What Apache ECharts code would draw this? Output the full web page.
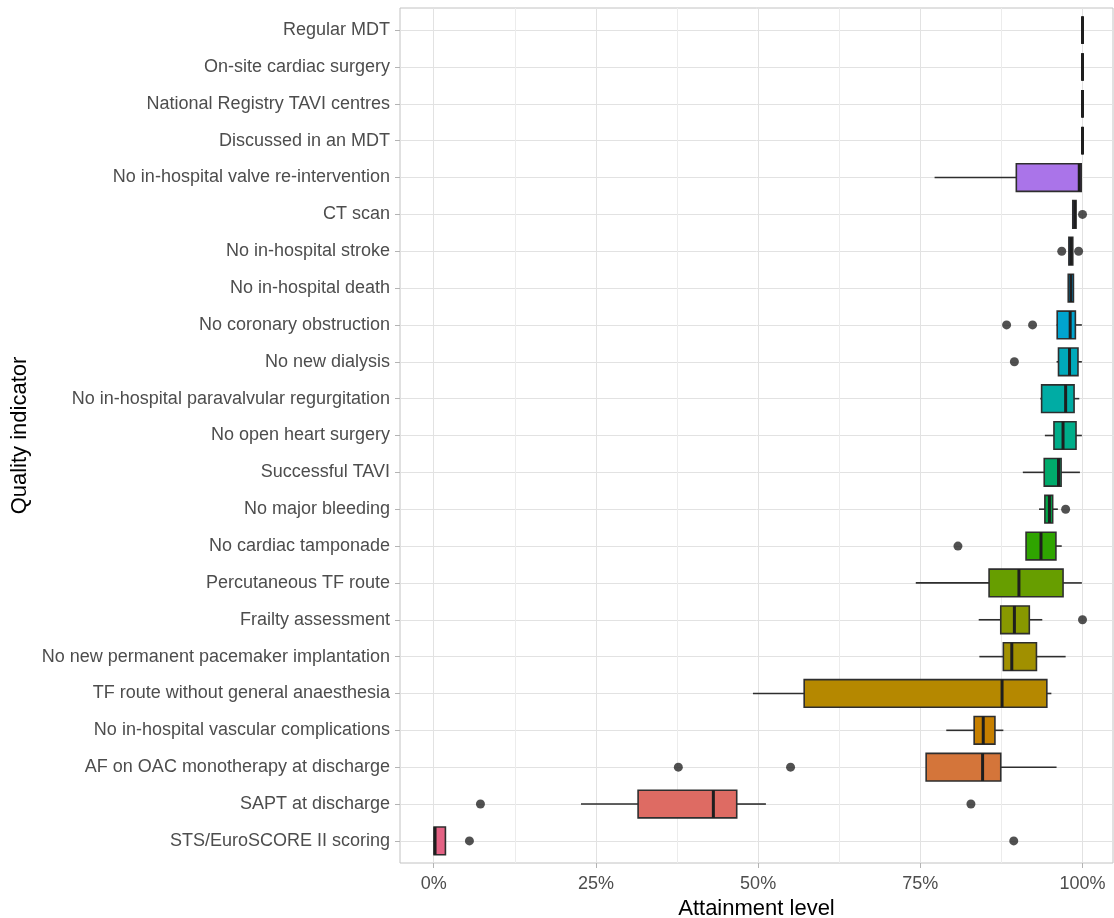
<!DOCTYPE html>
<html><head><meta charset="utf-8">
<script src="https://cdn.jsdelivr.net/npm/echarts@6/dist/echarts.min.js"></script>
<style>html,body{margin:0;padding:0;background:#fff}#c{width:1114px;height:918px}</style>
</head><body><div id="c"></div>
<script>
const categories = [
  'Regular MDT','On-site cardiac surgery','National Registry TAVI centres','Discussed in an MDT',
  'No in-hospital valve re-intervention','CT scan','No in-hospital stroke','No in-hospital death',
  'No coronary obstruction','No new dialysis','No in-hospital paravalvular regurgitation',
  'No open heart surgery','Successful TAVI','No major bleeding','No cardiac tamponade',
  'Percutaneous TF route','Frailty assessment','No new permanent pacemaker implantation',
  'TF route without general anaesthesia','No in-hospital vascular complications',
  'AF on OAC monotherapy at discharge','SAPT at discharge','STS/EuroSCORE II scoring'
];
const q1 =          [100,100,100,100, 89.8, 98.5, 97.9, 97.8, 96.1, 96.3, 93.7, 95.6, 94.1, 94.2, 91.3, 85.6, 87.4, 87.8, 57.1, 83.3, 75.9, 31.5, 0.05];
const median =      [100,100,100,100, 99.5, 98.8, 98.2, 98.2, 98.1, 98.0, 97.4, 97.0, 96.3, 94.9, 93.6, 90.2, 89.5, 89.1, 87.6, 84.7, 84.6, 43.1, 0.2];
const q3 =          [100,100,100,100, 99.8, 99.0, 98.5, 98.6, 98.9, 99.3, 98.7, 99.0, 96.7, 95.4, 95.9, 97.0, 91.8, 92.9, 94.5, 86.5, 87.4, 46.7, 1.8];
const whiskerLow =  [100,100,100,100, 77.2, 98.5, 97.9, 97.8, 96.0, 96.0, 93.5, 94.2, 90.8, 93.3, 91.3, 74.3, 84.0, 84.1, 49.2, 79.0, 75.9, 22.7, 0.0];
const whiskerHigh = [100,100,100,100, 99.8, 99.0, 98.5, 98.6, 99.9, 99.9, 99.5, 99.9, 99.6, 96.2, 96.8, 99.9, 93.8, 97.4, 95.2, 87.8, 96.0, 51.2, 1.8];
const outliers = [[5,100],[6,96.8],[6,99.4],[8,88.3],[8,92.3],[9,89.5],[13,97.4],[14,80.8],[16,100],
  [20,37.7],[20,55.0],[21,7.2],[21,82.8],[22,5.5],[22,89.4]];
const xTicks = [0,25,50,75,100];
const xMinor = [12.5,37.5,62.5,87.5];

// ggplot-like hue palette (hcl), slightly darkened to match the reference image
function hcl(h, c, l) {
  const hr = h * Math.PI / 180;
  const U = c * Math.cos(hr), V = c * Math.sin(hr);
  const Xn = 95.047, Yn = 100, Zn = 108.883;
  const den = Xn + 15 * Yn + 3 * Zn;
  const un = 4 * Xn / den, vn = 9 * Yn / den;
  const Y = Yn * Math.pow((l + 16) / 116, 3);
  const up = U / (13 * l) + un, vp = V / (13 * l) + vn;
  const X = Y * 9 * up / (4 * vp);
  const Z = Y * (12 - 3 * up - 20 * vp) / (4 * vp);
  const lin = [
    (3.2404542 * X - 1.5371385 * Y - 0.4985314 * Z) / 100,
    (-0.9692660 * X + 1.8760108 * Y + 0.0415560 * Z) / 100,
    (0.0556434 * X - 0.2040259 * Y + 1.0572252 * Z) / 100
  ];
  return '#' + lin.map(v => {
    let g = v <= 0.0031308 ? 12.92 * v : 1.055 * Math.pow(v, 1 / 2.4) - 0.055;
    g = Math.max(0, Math.min(1, g));
    return Math.round(g * 255).toString(16).padStart(2, '0');
  }).join('');
}
const n = categories.length;
const step = 360 / n;
const colors = categories.map((c, r) => {
  const level = r === n - 1 ? n - 1 : (n - 2 - r);
  return hcl(15 + level * step, 88, 59);
});

const boxData = categories.map((c, i) => [i, q1[i], median[i], q3[i], whiskerLow[i], whiskerHigh[i]]);
const outlierData = outliers.map(o => [o[1], o[0]]);
const yIdx = categories.map((c, i) => i);

const chart = echarts.init(document.getElementById('c'), null, {renderer: 'canvas'});
const FONT = 'Liberation Sans, Arial, sans-serif';
const labelFont = {fontFamily: FONT, fontSize: 18, color: '#4d4d4d'};
const X_MIN = -5.2, X_MAX = 104.7;

chart.setOption({
  backgroundColor: '#ffffff',
  animation: false,
  grid: {left: 400, right: 1, top: 8, bottom: 55, show: true, borderColor: '#c2c2c2', borderWidth: 1,
    containLabel: false, outerBoundsMode: 'none'},
  xAxis: [{
    type: 'value', min: X_MIN, max: X_MAX,
    axisLine: {show: false, onZero: false},
    axisTick: {show: true, length: 5, lineStyle: {color: '#b3b3b3'}, customValues: xTicks},
    axisLabel: Object.assign({margin: 12, customValues: xTicks, formatter: v => Math.round(v) + '%'}, labelFont),
    splitLine: {show: true, lineStyle: {color: '#e2e2e2', width: 1}},
    name: 'Attainment level', nameLocation: 'middle', nameGap: 33,
    nameTextStyle: {fontFamily: FONT, fontSize: 22, color: '#000'}
  }, {
    type: 'value', min: X_MIN, max: X_MAX, position: 'bottom',
    axisLine: {show: false, onZero: false},
    axisTick: {show: false, customValues: xMinor},
    axisLabel: {show: false, customValues: xMinor},
    splitLine: {show: true, lineStyle: {color: '#ececec', width: 1}}
  }],
  yAxis: {
    type: 'value', min: -0.6, max: 22.6, inverse: true,
    axisLine: {show: false, onZero: false},
    axisTick: {show: true, length: 5, lineStyle: {color: '#b3b3b3'}, customValues: yIdx},
    axisLabel: Object.assign({margin: 10, customValues: yIdx, formatter: v => categories[Math.round(v)] || ''}, labelFont),
    splitLine: {show: true, lineStyle: {color: '#e2e2e2', width: 1}},
    name: 'Quality indicator', nameLocation: 'middle', nameGap: 364, nameRotate: 90,
    nameTextStyle: {fontFamily: FONT, fontSize: 22, color: '#000'}
  },
  series: [{
    type: 'custom',
    xAxisIndex: 0,
    data: boxData,
    encode: {x: [1, 2, 3, 4, 5], y: 0},
    renderItem: function (params, api) {
      const yi = api.value(0);
      const pq1 = api.coord([api.value(1), yi]);
      const pm = api.coord([api.value(2), yi]);
      const pq3 = api.coord([api.value(3), yi]);
      const plo = api.coord([api.value(4), yi]);
      const phi = api.coord([api.value(5), yi]);
      const band = Math.abs(api.size([0, 1])[1]);
      const h = band * 0.75;
      const y = pm[1];
      const dark = '#2e2e2e';
      return {
        type: 'group',
        children: [
          {type: 'line', shape: {x1: plo[0], y1: y, x2: pq1[0], y2: y}, style: {stroke: dark, lineWidth: 1.6}},
          {type: 'line', shape: {x1: pq3[0], y1: y, x2: phi[0], y2: y}, style: {stroke: dark, lineWidth: 1.6}},
          {type: 'rect', shape: {x: pq1[0], y: y - h / 2, width: pq3[0] - pq1[0], height: h},
            style: {fill: colors[yi], stroke: dark, lineWidth: 1.6}},
          {type: 'line', shape: {x1: pm[0], y1: y - h / 2, x2: pm[0], y2: y + h / 2}, style: {stroke: '#1e1e1e', lineWidth: 3}}
        ]
      };
    }
  }, {
    type: 'scatter',
    xAxisIndex: 0,
    data: outlierData,
    symbol: 'circle',
    symbolSize: 9,
    itemStyle: {color: '#262626'},
    z: 5
  }]
});
</script>
</body></html>
